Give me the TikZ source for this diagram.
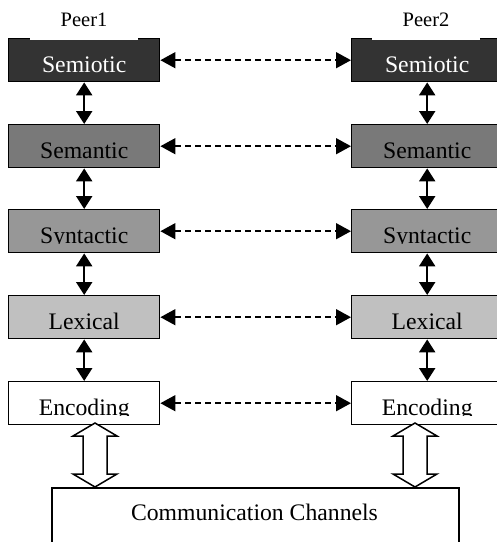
\documentclass[tikz,border=0pt]{standalone}
\usepackage{fontspec}
\setmainfont{Liberation Serif}
\usetikzlibrary{arrows.meta}
\begin{document}
\begin{tikzpicture}[x=1pt,y=-1pt,
  layerbox/.style={draw=black, line width=1.4pt, minimum width=151pt, minimum height=43pt,
    inner sep=0pt, anchor=north west},
  layername/.style={anchor=base, inner sep=0pt, font=\fontsize{23.7}{28}\selectfont},
  peername/.style={anchor=base, inner sep=0pt, font=\fontsize{20.5}{24}\selectfont},
  updown/.style={line width=2.2pt, {Triangle[length=13pt,width=16pt]}-{Triangle[length=13pt,width=16pt]}},
  peerlink/.style={line width=1.5pt, dash pattern=on 6pt off 4pt,
    {Triangle[length=15pt,width=16pt]}-{Triangle[length=15pt,width=16pt]}},
  hollow/.style={draw=black, fill=white, line width=1.5pt, line join=miter},
]
\useasboundingbox (0,0) rectangle (497,542);
\clip (0,0) rectangle (497,542);

% layer colours
\definecolor{semioticfill}{HTML}{333333}
\definecolor{semanticfill}{HTML}{797979}
\definecolor{syntacticfill}{HTML}{979797}
\definecolor{lexicalfill}{HTML}{C0C0C0}

% layer boxes: left peer and right peer
\node[layerbox, fill=semioticfill]  (L1) at (8,38)  {};
\node[layerbox, fill=semanticfill]  (L2) at (8,124) {};
\node[layerbox, fill=syntacticfill] (L3) at (8,209) {};
\node[layerbox, fill=lexicalfill]   (L4) at (8,295) {};
\node[layerbox, fill=white]         (L5) at (8,381) {};

\node[layerbox, fill=semioticfill]  (R1) at (351,38)  {};
\node[layerbox, fill=semanticfill]  (R2) at (351,124) {};
\node[layerbox, fill=syntacticfill] (R3) at (351,209) {};
\node[layerbox, fill=lexicalfill]   (R4) at (351,295) {};
\node[layerbox, fill=white]         (R5) at (351,381) {};

% layer names, cut off just below the baseline
\foreach \b/\name/\col in {L1/Semiotic/white, L2/Semantic/black, L3/Syntactic/black,
                            L4/Lexical/black, L5/Encoding/black,
                            R1/Semiotic/white, R2/Semantic/black, R3/Syntactic/black,
                            R4/Lexical/black, R5/Encoding/black}{
  \begin{scope}
    \clip ([yshift=1pt]\b.north west) rectangle ([yshift=9.6pt]\b.south east);
    \node[layername, text=\col] (\b t) at ([yshift=10pt]\b.south) {\name};
  \end{scope}
}

% peer titles, sitting on a white patch over the top edge
\fill[white] (30,4) rectangle (138,39.5);
\fill[white] (372,4) rectangle (480,39.5);
\node[peername] (P1) at (84,26.5) {Peer1};
\node[peername] (P2) at (426,26.5) {Peer2};

% vertical links inside each peer
\foreach \a/\b in {1/2,2/3,3/4,4/5}{
  \draw[updown] (L\a.south) -- (L\b.north);
  \draw[updown] (R\a.south) -- (R\b.north);
}

% peer-to-peer links
\foreach \a in {1,...,5}{
  \draw[peerlink] (L\a.east) -- (R\a.west);
}

% communication channels
\node[draw=black, line width=1.5pt, minimum width=407pt, minimum height=80pt, inner sep=0pt,
  anchor=north west] (CC) at (51,487) {};
\node[layername] (CCt) at (254.5,520) {Communication Channels};

% hollow double arrows between encoding and channels
\coordinate (HL) at (95,423);
\coordinate (HR) at (415,423);
\foreach \c in {HL,HR}{
  \draw[hollow] (\c) -- ++(22,13) -- ++(-10,0) -- ++(0,38) -- ++(10,0) -- ++(-22,13)
    -- ++(-22,-13) -- ++(10,0) -- ++(0,-38) -- ++(-10,0) -- cycle;
}
\end{tikzpicture}
\end{document}
